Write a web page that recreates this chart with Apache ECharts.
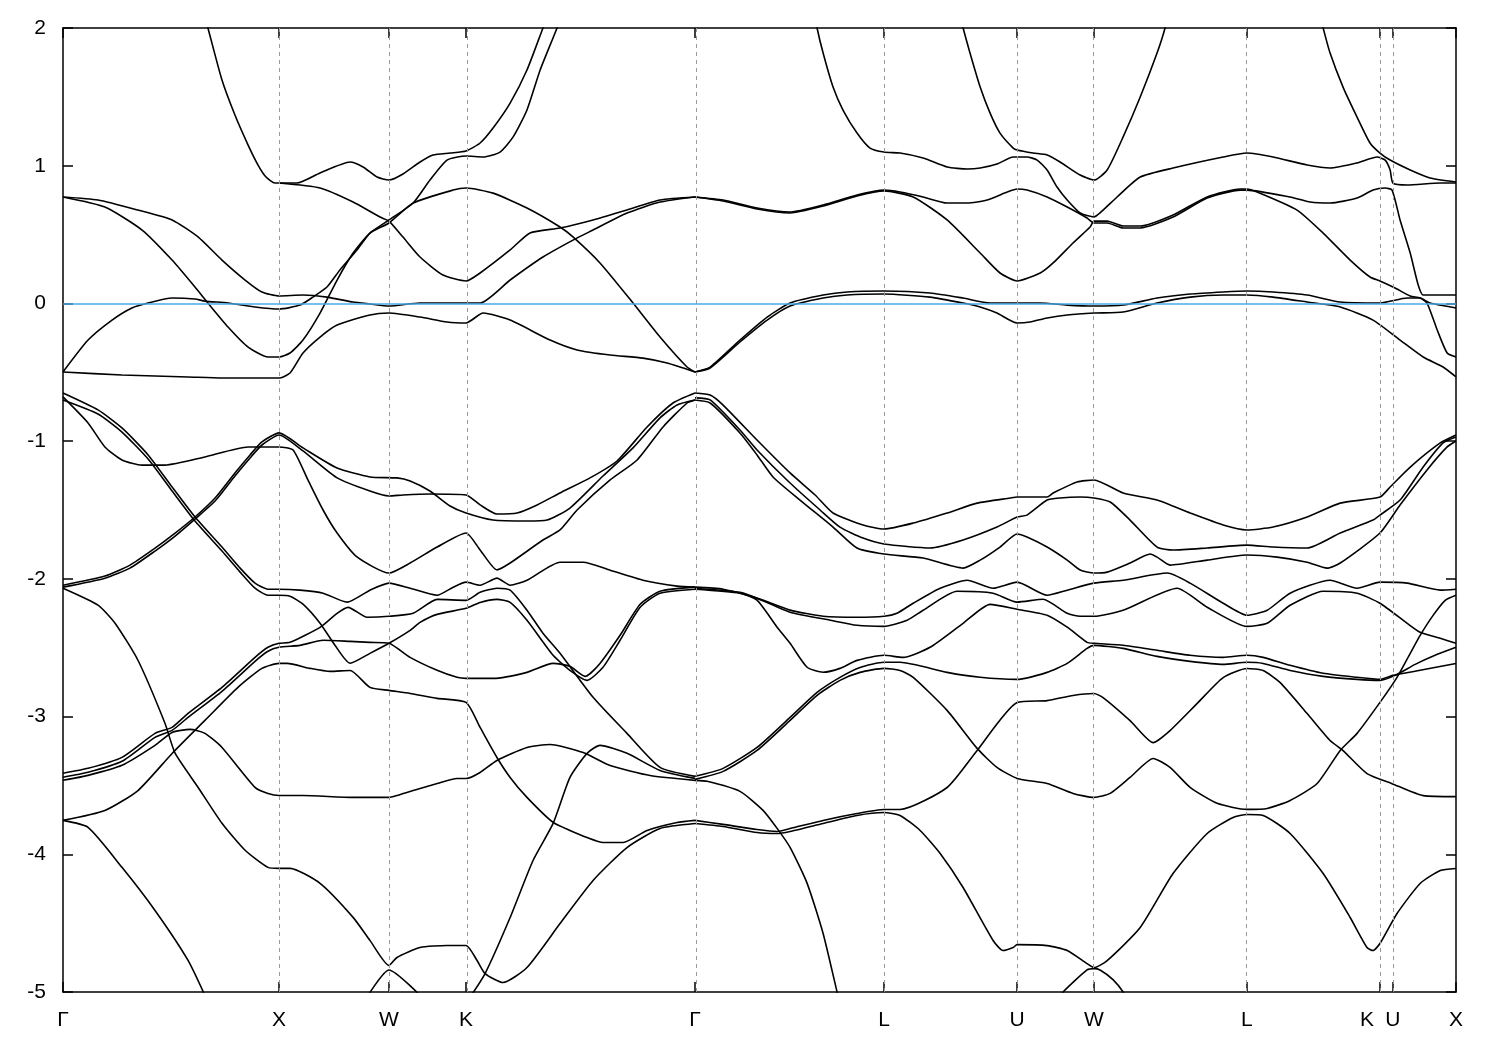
<!DOCTYPE html>
<html><head><meta charset="utf-8">
<script src="https://cdn.jsdelivr.net/npm/echarts@6/dist/echarts.min.js"></script>
<style>html,body{margin:0;padding:0;background:#fff}#c{width:1500px;height:1050px}</style>
</head><body><div id="c"></div>
<script>
// high-symmetry points along the k-path
const kTicks  = [0, 1.0, 1.509, 1.866, 2.926, 3.801, 4.417, 4.773, 5.481, 6.097, 6.157, 6.449];
const kLabels = ['Γ','X','W','K','Γ','L','U','W','L','K','U','X'];
const energyTicks = [-5,-4,-3,-2,-1,0,1,2];

// bands [k, E(eV)]
const T1 = [[0.657,2.08],[0.671,2.0],[0.736,1.622],[0.796,1.368],[0.857,1.15],[0.903,1.005],[0.94,0.918],[0.981,0.874],[1.0,0.874],[1.083,0.874],[1.19,0.947],[1.329,1.027],[1.389,0.991],[1.454,0.918],[1.509,0.896],[1.574,0.94],[1.653,1.027],[1.713,1.078],[1.792,1.092],[1.866,1.107],[1.931,1.165],[1.991,1.274],[2.07,1.455],[2.148,1.695],[2.222,2.0],[2.245,2.09]];
const T2 = [[1.0,0.874],[1.19,0.838],[1.343,0.736],[1.468,0.627],[1.509,0.598],[1.574,0.482],[1.653,0.337],[1.759,0.206],[1.866,0.163],[1.931,0.221],[2.07,0.388],[2.162,0.512],[2.301,0.548],[2.454,0.606],[2.611,0.679],[2.764,0.751],[2.926,0.773]];
const T3 = [[0,0.773],[0.162,0.751],[0.347,0.678],[0.505,0.606],[0.625,0.483],[0.736,0.315],[0.843,0.17],[0.921,0.083],[1.0,0.054],[1.111,0.061],[1.222,0.046],[1.343,0.01],[1.421,-0.004],[1.509,-0.019],[1.653,0.003],[1.778,0.003],[1.866,0.003],[1.931,0.003],[2.07,0.17],[2.222,0.337],[2.361,0.46],[2.454,0.533],[2.611,0.656],[2.764,0.736],[2.926,0.773]];
const T4 = [[0,0.773],[0.194,0.7],[0.366,0.533],[0.505,0.315],[0.611,0.119],[0.671,0.003],[0.764,-0.171],[0.857,-0.317],[0.949,-0.389],[1.0,-0.389],[1.051,-0.36],[1.111,-0.266],[1.19,-0.07],[1.269,0.17],[1.343,0.366],[1.421,0.511],[1.509,0.584],[1.621,0.729],[1.806,0.823],[1.866,0.838],[1.991,0.801],[2.148,0.693],[2.301,0.555],[2.361,0.483],[2.486,0.294],[2.639,0.003],[2.764,-0.244],[2.889,-0.462],[2.926,-0.498]];
const T5 = [[0,-0.498],[0.116,-0.266],[0.227,-0.121],[0.319,-0.033],[0.394,0.003],[0.505,0.039],[0.611,0.032],[0.657,0.017],[0.764,0.003],[0.889,-0.026],[1.0,-0.041],[1.097,-0.012],[1.157,0.046],[1.222,0.119],[1.282,0.243],[1.361,0.388],[1.421,0.511],[1.509,0.606],[1.621,0.729],[1.699,0.896],[1.778,1.041],[1.866,1.07],[1.945,1.063],[2.023,1.099],[2.084,1.209],[2.148,1.405],[2.209,1.695],[2.287,2.0],[2.306,2.1]];
const T6 = [[0,-0.498],[0.273,-0.52],[0.579,-0.534],[0.736,-0.542],[1.0,-0.542],[1.051,-0.505],[1.111,-0.36],[1.19,-0.244],[1.269,-0.157],[1.421,-0.084],[1.509,-0.07],[1.653,-0.099],[1.778,-0.135],[1.866,-0.142],[1.945,-0.07],[2.07,-0.121],[2.255,-0.266],[2.38,-0.338],[2.533,-0.375],[2.685,-0.397],[2.797,-0.433],[2.926,-0.498]];

const V1 = [[0,-0.679],[0.116,-0.868],[0.194,-1.042],[0.273,-1.137],[0.366,-1.174],[0.472,-1.174],[0.657,-1.115],[0.857,-1.042],[1.0,-1.042],[1.065,-1.064],[1.134,-1.282],[1.204,-1.5],[1.269,-1.667],[1.361,-1.841],[1.509,-1.958],[1.607,-1.885],[1.732,-1.769],[1.866,-1.667],[1.931,-1.79],[2.009,-1.935],[2.07,-1.885],[2.222,-1.718],[2.301,-1.645],[2.38,-1.5],[2.533,-1.282],[2.658,-1.137],[2.778,-0.897],[2.889,-0.723],[2.926,-0.701]];
const V2a = [[0,-0.65],[0.162,-0.773],[0.273,-0.904],[0.394,-1.1],[0.505,-1.333],[0.611,-1.551],[0.736,-1.769],[0.82,-1.922],[0.889,-2.031],[0.949,-2.075],[1.0,-2.075],[1.097,-2.082],[1.204,-2.104],[1.315,-2.169],[1.421,-2.082],[1.509,-2.031],[1.607,-2.068],[1.732,-2.119],[1.806,-2.061],[1.866,-2.024],[1.931,-2.046],[2.009,-1.995],[2.07,-2.046],[2.148,-2.01],[2.301,-1.879],[2.408,-1.879],[2.533,-1.937],[2.685,-2.01],[2.843,-2.053],[2.926,-2.06]];
const V2b = [[0,-0.701],[0.162,-0.803],[0.273,-0.934],[0.394,-1.13],[0.505,-1.362],[0.611,-1.58],[0.736,-1.798],[0.82,-1.951],[0.889,-2.068],[0.949,-2.119],[1.0,-2.119],[1.051,-2.126],[1.111,-2.184],[1.19,-2.322],[1.259,-2.482],[1.329,-2.613],[1.421,-2.541],[1.509,-2.468],[1.607,-2.374],[1.653,-2.316],[1.732,-2.258],[1.866,-2.214],[1.931,-2.171],[2.009,-2.149],[2.07,-2.171],[2.148,-2.301],[2.269,-2.555],[2.347,-2.664],[2.426,-2.737],[2.5,-2.642],[2.579,-2.446],[2.672,-2.206],[2.764,-2.104],[2.926,-2.075]];
const V3a = [[0,-2.046],[0.194,-1.98],[0.31,-1.9],[0.426,-1.777],[0.519,-1.668],[0.611,-1.551],[0.704,-1.413],[0.796,-1.231],[0.866,-1.1],[0.921,-1.006],[1.0,-0.94],[1.111,-1.049],[1.269,-1.195],[1.421,-1.26],[1.546,-1.267],[1.607,-1.289],[1.699,-1.362],[1.792,-1.471],[1.866,-1.522],[1.991,-1.573],[2.148,-1.58],[2.241,-1.573],[2.347,-1.486],[2.5,-1.253],[2.639,-1.049],[2.764,-0.831],[2.843,-0.737],[2.926,-0.701]];
const V3b = [[0,-2.06],[0.194,-1.995],[0.31,-1.922],[0.426,-1.798],[0.519,-1.689],[0.611,-1.566],[0.704,-1.435],[0.796,-1.253],[0.866,-1.122],[0.921,-1.028],[1.0,-0.955],[1.111,-1.071],[1.269,-1.267],[1.421,-1.362],[1.509,-1.398],[1.574,-1.391],[1.699,-1.384],[1.866,-1.391],[1.931,-1.463],[2.009,-1.529],[2.102,-1.522],[2.195,-1.463],[2.301,-1.376],[2.44,-1.267],[2.565,-1.144],[2.704,-0.897],[2.824,-0.723],[2.926,-0.65]];
const V4 = [[0,-2.068],[0.162,-2.191],[0.241,-2.322],[0.347,-2.591],[0.472,-3.048],[0.519,-3.266],[0.625,-3.513],[0.736,-3.775],[0.843,-3.971],[0.949,-4.095],[1.0,-4.102],[1.051,-4.102],[1.19,-4.211],[1.343,-4.458],[1.421,-4.625],[1.509,-4.807],[1.546,-4.749],[1.653,-4.677],[1.778,-4.662],[1.866,-4.662],[1.917,-4.771],[1.954,-4.866],[2.037,-4.931],[2.148,-4.822],[2.301,-4.503],[2.454,-4.19],[2.611,-3.951],[2.764,-3.813],[2.926,-3.777]];
const V5 = [[1.398,-5.06],[1.509,-4.84],[1.676,-5.06]];
const V5b = [[0,-3.754],[0.116,-3.805],[0.273,-4.095],[0.426,-4.408],[0.579,-4.771],[0.667,-5.06]];
const V6 = [[1.875,-5.06],[1.954,-4.866],[2.07,-4.459],[2.176,-4.045],[2.269,-3.776],[2.347,-3.442],[2.426,-3.267],[2.486,-3.209],[2.611,-3.267],[2.764,-3.391],[2.926,-3.449]];
const V7 = [[4.607,-5.06],[4.63,-5.0],[4.741,-4.84],[4.773,-4.83],[4.801,-4.84],[4.861,-4.91],[4.908,-5.0],[4.926,-5.06]];

const TL1 = [[0,-3.412],[0.116,-3.376],[0.273,-3.296],[0.426,-3.122],[0.505,-3.078],[0.579,-2.977],[0.736,-2.788],[0.889,-2.57],[0.949,-2.497],[1.0,-2.468],[1.051,-2.461],[1.19,-2.352],[1.269,-2.25],[1.32,-2.207],[1.408,-2.279],[1.509,-2.272],[1.621,-2.25],[1.732,-2.149],[1.866,-2.156],[1.931,-2.098],[2.009,-2.068],[2.07,-2.082],[2.148,-2.228],[2.222,-2.395],[2.301,-2.541],[2.454,-2.86],[2.611,-3.122],[2.764,-3.369],[2.926,-3.434]];
const TL2 = [[0,-3.441],[0.116,-3.405],[0.273,-3.325],[0.426,-3.151],[0.505,-3.1],[0.579,-3.006],[0.736,-2.817],[0.889,-2.599],[0.949,-2.526],[1.0,-2.497],[1.097,-2.483],[1.204,-2.446],[1.329,-2.454],[1.421,-2.461],[1.509,-2.468],[1.607,-2.57],[1.732,-2.664],[1.824,-2.715],[1.866,-2.723],[1.991,-2.723],[2.148,-2.679],[2.269,-2.614],[2.347,-2.635],[2.417,-2.708],[2.486,-2.614],[2.579,-2.41],[2.672,-2.185],[2.764,-2.09],[2.926,-2.06]];
const TL3 = [[0,-3.463],[0.116,-3.427],[0.273,-3.354],[0.426,-3.209],[0.505,-3.115],[0.588,-3.093],[0.657,-3.122],[0.736,-3.224],[0.889,-3.514],[0.949,-3.558],[1.0,-3.573],[1.111,-3.573],[1.343,-3.587],[1.509,-3.587],[1.546,-3.573],[1.621,-3.537],[1.732,-3.486],[1.824,-3.45],[1.866,-3.45],[1.931,-3.406],[2.009,-3.319],[2.148,-3.225],[2.255,-3.203],[2.408,-3.261],[2.533,-3.355],[2.718,-3.428],[2.926,-3.463]];
const TL4 = [[0,-3.754],[0.194,-3.682],[0.347,-3.537],[0.505,-3.268],[0.657,-3.028],[0.81,-2.788],[0.921,-2.65],[1.0,-2.614],[1.037,-2.614],[1.144,-2.65],[1.236,-2.672],[1.329,-2.665],[1.421,-2.788],[1.509,-2.81],[1.607,-2.832],[1.732,-2.868],[1.866,-2.897],[1.931,-3.079],[2.009,-3.297],[2.07,-3.442],[2.148,-3.587],[2.269,-3.769],[2.347,-3.827],[2.426,-3.878],[2.5,-3.914],[2.593,-3.914],[2.704,-3.827],[2.843,-3.769],[2.926,-3.754]];

const R1 = [[3.482,2.094],[3.491,2.0],[3.519,1.818],[3.565,1.571],[3.611,1.404],[3.676,1.237],[3.736,1.128],[3.801,1.099],[3.875,1.092],[3.982,1.056],[4.093,0.991],[4.186,0.976],[4.246,0.983],[4.324,1.012],[4.399,1.063],[4.463,1.063],[4.51,1.041],[4.556,0.969],[4.602,0.845],[4.649,0.751],[4.709,0.657],[4.773,0.628],[4.801,0.657],[4.88,0.773],[4.987,0.918],[5.139,0.983],[5.371,1.063],[5.481,1.092],[5.602,1.063],[5.76,1.005],[5.866,0.983],[5.991,1.02],[6.084,1.063],[6.121,1.041],[6.144,0.969],[6.157,0.874],[6.223,0.86],[6.376,0.874],[6.449,0.874]];
const R2 = [[4.153,2.094],[4.167,2.0],[4.199,1.818],[4.246,1.571],[4.292,1.382],[4.338,1.237],[4.399,1.128],[4.417,1.114],[4.491,1.092],[4.556,1.078],[4.616,1.027],[4.709,0.932],[4.773,0.896],[4.834,0.969],[4.908,1.209],[4.987,1.499],[5.065,1.818],[5.102,2.0],[5.112,2.094]];
const R3 = [[5.82,2.094],[5.834,2.0],[5.866,1.818],[5.926,1.571],[5.991,1.353],[6.051,1.165],[6.097,1.092],[6.144,1.041],[6.237,0.969],[6.329,0.911],[6.449,0.882]];
const R4 = [[2.926,0.773],[3.056,0.751],[3.213,0.693],[3.366,0.664],[3.519,0.715],[3.676,0.787],[3.801,0.823],[3.875,0.809],[3.982,0.773],[4.093,0.729],[4.186,0.729],[4.278,0.751],[4.371,0.809],[4.417,0.831],[4.463,0.823],[4.556,0.773],[4.649,0.7],[4.741,0.62],[4.773,0.584],[4.834,0.584],[4.908,0.548],[4.987,0.548],[5.139,0.627],[5.297,0.765],[5.45,0.823],[5.481,0.823],[5.681,0.773],[5.774,0.736],[5.866,0.729],[5.991,0.765],[6.065,0.823],[6.121,0.838],[6.153,0.823],[6.19,0.606],[6.237,0.366],[6.274,0.134],[6.297,0.061],[6.376,0.061],[6.449,0.061]];
const R5 = [[2.926,0.773],[3.056,0.744],[3.213,0.686],[3.366,0.657],[3.519,0.707],[3.676,0.78],[3.801,0.816],[3.936,0.773],[4.093,0.606],[4.246,0.366],[4.338,0.221],[4.417,0.163],[4.524,0.221],[4.584,0.294],[4.676,0.439],[4.755,0.555],[4.773,0.598],[4.834,0.598],[4.908,0.562],[4.987,0.562],[5.139,0.642],[5.297,0.773],[5.45,0.831],[5.481,0.831],[5.528,0.809],[5.713,0.678],[5.834,0.511],[5.959,0.315],[6.051,0.192],[6.097,0.163],[6.167,0.112],[6.237,0.054],[6.283,0.039],[6.315,0.003],[6.362,-0.193],[6.408,-0.36],[6.449,-0.389]];
const R6 = [[2.926,-0.498],[2.996,-0.462],[3.134,-0.266],[3.26,-0.099],[3.366,0.003],[3.519,0.061],[3.63,0.083],[3.801,0.09],[4.014,0.076],[4.167,0.039],[4.292,0.003],[4.417,0.003],[4.524,0.003],[4.649,-0.012],[4.773,-0.019],[4.908,-0.012],[5.065,0.039],[5.218,0.068],[5.371,0.083],[5.481,0.09],[5.602,0.083],[5.76,0.061],[5.913,0.01],[6.097,0.003],[6.223,0.039],[6.283,0.039],[6.329,0.003],[6.449,-0.033]];
const R7 = [[2.926,-0.498],[2.996,-0.469],[3.134,-0.28],[3.26,-0.121],[3.366,-0.019],[3.519,0.039],[3.63,0.061],[3.801,0.068],[4.014,0.046],[4.167,0.003],[4.246,-0.026],[4.324,-0.07],[4.417,-0.142],[4.477,-0.135],[4.556,-0.106],[4.649,-0.084],[4.773,-0.07],[4.908,-0.062],[5.065,0.003],[5.218,0.046],[5.371,0.061],[5.481,0.061],[5.602,0.046],[5.76,0.01],[5.913,-0.026],[6.065,-0.121],[6.19,-0.266],[6.297,-0.389],[6.389,-0.462],[6.449,-0.534]];

const G1 = [[2.926,-0.65],[2.996,-0.665],[3.056,-0.738],[3.213,-0.992],[3.366,-1.231],[3.482,-1.391],[3.565,-1.522],[3.704,-1.609],[3.801,-1.638],[3.936,-1.595],[4.093,-1.522],[4.232,-1.45],[4.385,-1.413],[4.417,-1.406],[4.556,-1.406],[4.584,-1.377],[4.695,-1.297],[4.773,-1.282],[4.908,-1.377],[5.065,-1.428],[5.218,-1.522],[5.371,-1.609],[5.481,-1.645],[5.602,-1.624],[5.76,-1.551],[5.913,-1.45],[6.097,-1.406],[6.144,-1.333],[6.237,-1.188],[6.376,-1.013],[6.449,-0.955]];
const G2 = [[2.926,-0.686],[2.996,-0.701],[3.134,-0.919],[3.213,-1.064],[3.366,-1.304],[3.505,-1.5],[3.597,-1.624],[3.704,-1.704],[3.801,-1.747],[4.014,-1.776],[4.167,-1.718],[4.324,-1.624],[4.417,-1.551],[4.463,-1.537],[4.556,-1.428],[4.616,-1.413],[4.709,-1.406],[4.773,-1.413],[4.848,-1.442],[4.94,-1.573],[5.065,-1.769],[5.139,-1.791],[5.297,-1.776],[5.481,-1.755],[5.602,-1.769],[5.76,-1.776],[5.913,-1.667],[6.065,-1.573],[6.097,-1.537],[6.19,-1.428],[6.297,-1.188],[6.389,-1.013],[6.449,-0.97]];
const G3 = [[2.926,-0.701],[2.996,-0.723],[3.134,-0.941],[3.213,-1.1],[3.287,-1.26],[3.412,-1.428],[3.565,-1.624],[3.676,-1.776],[3.801,-1.82],[3.982,-1.849],[4.167,-1.922],[4.246,-1.864],[4.338,-1.769],[4.417,-1.674],[4.463,-1.696],[4.556,-1.769],[4.649,-1.864],[4.709,-1.936],[4.773,-1.958],[4.834,-1.951],[4.94,-1.885],[5.033,-1.82],[5.065,-1.842],[5.125,-1.9],[5.297,-1.864],[5.481,-1.827],[5.621,-1.842],[5.76,-1.879],[5.852,-1.922],[5.913,-1.885],[6.097,-1.667],[6.19,-1.464],[6.315,-1.209],[6.408,-1.042],[6.449,-0.999]];
const G4 = [[2.926,-2.06],[3.056,-2.075],[3.213,-2.14],[3.366,-2.227],[3.519,-2.271],[3.676,-2.279],[3.801,-2.272],[3.861,-2.25],[3.936,-2.177],[4.061,-2.068],[4.186,-2.01],[4.306,-2.068],[4.417,-2.024],[4.556,-2.119],[4.649,-2.082],[4.773,-2.031],[4.908,-2.01],[5.112,-1.958],[5.218,-2.031],[5.371,-2.177],[5.481,-2.264],[5.575,-2.228],[5.681,-2.104],[5.866,-2.01],[5.991,-2.068],[6.097,-2.024],[6.223,-2.031],[6.376,-2.082],[6.449,-2.075]];
const G5 = [[2.926,-2.068],[3.134,-2.097],[3.213,-2.14],[3.366,-2.242],[3.551,-2.3],[3.676,-2.337],[3.801,-2.345],[3.908,-2.3],[3.982,-2.228],[4.139,-2.09],[4.306,-2.104],[4.417,-2.169],[4.537,-2.148],[4.649,-2.25],[4.709,-2.272],[4.773,-2.272],[4.908,-2.228],[5.158,-2.068],[5.297,-2.206],[5.481,-2.345],[5.575,-2.323],[5.681,-2.192],[5.834,-2.09],[5.991,-2.104],[6.097,-2.177],[6.223,-2.323],[6.283,-2.388],[6.376,-2.432],[6.449,-2.468]];
const G6 = [[2.926,-2.075],[3.134,-2.104],[3.213,-2.155],[3.306,-2.351],[3.366,-2.468],[3.445,-2.642],[3.519,-2.678],[3.597,-2.65],[3.676,-2.592],[3.801,-2.555],[3.889,-2.57],[4.014,-2.497],[4.167,-2.323],[4.292,-2.185],[4.417,-2.221],[4.556,-2.264],[4.649,-2.351],[4.741,-2.461],[4.773,-2.468],[4.908,-2.482],[5.065,-2.519],[5.218,-2.555],[5.371,-2.57],[5.481,-2.555],[5.556,-2.57],[5.681,-2.628],[5.834,-2.686],[5.991,-2.715],[6.097,-2.73],[6.157,-2.701],[6.283,-2.664],[6.449,-2.614]];
const G7 = [[2.926,-3.434],[3.056,-3.376],[3.213,-3.224],[3.366,-3.006],[3.491,-2.824],[3.597,-2.715],[3.69,-2.643],[3.801,-2.606],[3.875,-2.606],[4.093,-2.679],[4.246,-2.715],[4.417,-2.73],[4.556,-2.679],[4.649,-2.614],[4.741,-2.505],[4.773,-2.483],[4.908,-2.505],[5.065,-2.563],[5.218,-2.599],[5.371,-2.621],[5.481,-2.606],[5.556,-2.614],[5.681,-2.665],[5.834,-2.708],[5.991,-2.73],[6.097,-2.737],[6.167,-2.701],[6.26,-2.621],[6.352,-2.555],[6.449,-2.497]];
const G8 = [[2.926,-3.456],[3.056,-3.398],[3.213,-3.246],[3.366,-3.028],[3.491,-2.846],[3.597,-2.737],[3.69,-2.679],[3.801,-2.65],[3.875,-2.665],[3.936,-2.715],[4.093,-2.955],[4.232,-3.231],[4.324,-3.369],[4.417,-3.449],[4.556,-3.486],[4.676,-3.558],[4.773,-3.587],[4.848,-3.558],[4.94,-3.442],[5.047,-3.304],[5.125,-3.369],[5.218,-3.514],[5.343,-3.63],[5.481,-3.674],[5.575,-3.667],[5.681,-3.609],[5.806,-3.486],[5.913,-3.246],[5.991,-3.122],[6.097,-2.897],[6.176,-2.715],[6.237,-2.541],[6.283,-2.41],[6.343,-2.265],[6.399,-2.156],[6.449,-2.119]];
const G9 = [[2.926,-3.463],[2.982,-3.47],[3.134,-3.543],[3.241,-3.681],[3.306,-3.812],[3.366,-3.95],[3.445,-4.211],[3.519,-4.575],[3.584,-5.003],[3.593,-5.06]];
const G10 = [[2.926,-3.754],[3.056,-3.783],[3.213,-3.82],[3.306,-3.834],[3.366,-3.813],[3.519,-3.754],[3.676,-3.704],[3.801,-3.675],[3.875,-3.675],[4.093,-3.515],[4.232,-3.246],[4.417,-2.898],[4.556,-2.884],[4.676,-2.847],[4.773,-2.833],[4.815,-2.862],[4.94,-3.029],[5.047,-3.189],[5.125,-3.102],[5.25,-2.906],[5.371,-2.717],[5.481,-2.651],[5.556,-2.666],[5.635,-2.753],[5.76,-2.978],[5.866,-3.174],[5.926,-3.247],[6.037,-3.414],[6.153,-3.487],[6.297,-3.574],[6.449,-3.581]];
const G11 = [[2.926,-3.776],[3.056,-3.798],[3.213,-3.842],[3.306,-3.849],[3.366,-3.834],[3.519,-3.776],[3.676,-3.718],[3.801,-3.697],[3.875,-3.718],[3.968,-3.827],[4.061,-3.994],[4.167,-4.241],[4.306,-4.626],[4.352,-4.699],[4.399,-4.677],[4.417,-4.656],[4.556,-4.663],[4.649,-4.699],[4.741,-4.794],[4.773,-4.823],[4.834,-4.772],[4.987,-4.532],[5.139,-4.14],[5.297,-3.849],[5.417,-3.733],[5.481,-3.711],[5.556,-3.718],[5.681,-3.849],[5.834,-4.14],[5.959,-4.459],[6.037,-4.677],[6.065,-4.699],[6.097,-4.648],[6.176,-4.43],[6.283,-4.212],[6.376,-4.118],[6.449,-4.103]];

const bands = [T1,T2,T3,T4,T5,T6,V1,V2a,V2b,V3a,V3b,V4,V5,V5b,V6,V7,TL1,TL2,TL3,TL4,R1,R2,R3,R4,R5,R6,R7,G1,G2,G3,G4,G5,G6,G7,G8,G9,G10,G11];

const FONT = 'Liberation Sans, Arial, Helvetica, sans-serif';
const kMax = kTicks[kTicks.length-1];
function kLabel(v){
  for (let i=0;i<kTicks.length;i++){
    if (Math.abs(v-kTicks[i])<1e-6) return i===9 ? '{kl|'+kLabels[i]+'}' : '{n|'+kLabels[i]+'}';
  }
  return '';
}

const series = bands.map(function(b){
  return {type:'line', data:b, showSymbol:false, symbol:'none', smooth:0.2,
    lineStyle:{color:'#000', width:1.6}, silent:true, animation:false, z:3};
});
// vertical dashed guides at interior high-symmetry points
series.push({type:'line', data:[], silent:true, animation:false, z:1,
  markLine:{silent:true, symbol:['none','none'], label:{show:false}, animation:false,
    lineStyle:{color:'#9a9a9a', type:[4,4], width:1},
    data: kTicks.slice(1,-1).map(function(v){return {xAxis:v};})}});
// Fermi level
series.push({type:'line', data:[], silent:true, animation:false, z:4,
  markLine:{silent:true, symbol:['none','none'], label:{show:false}, animation:false,
    lineStyle:{color:'#45aee0', type:'solid', width:1.6},
    data:[{yAxis:0}]}});

const axisLineStyle = {color:'#000', width:1.5};
const labStyle = {color:'#000', fontSize:21, fontFamily:FONT};
const option = {
  backgroundColor:'#fff',
  animation:false,
  grid:{left:63, right:44, top:28, bottom:58, containLabel:false},
  xAxis:[
    {type:'value', min:0, max:kMax, position:'bottom',
     axisLine:{show:true, onZero:false, lineStyle:axisLineStyle},
     axisTick:{show:true, inside:true, length:10, customValues:kTicks, lineStyle:axisLineStyle},
     axisLabel:{show:true, customValues:kTicks, formatter:kLabel, color:'#000', fontSize:21, fontFamily:FONT, margin:18,
       rich:{n:labStyle, kl:Object.assign({padding:[0,26,0,0]}, labStyle)}},
     splitLine:{show:false}},
    {type:'value', min:0, max:kMax, position:'top',
     axisLine:{show:true, onZero:false, lineStyle:axisLineStyle},
     axisTick:{show:true, inside:true, length:10, customValues:kTicks, lineStyle:axisLineStyle},
     axisLabel:{show:false}, splitLine:{show:false}}
  ],
  yAxis:[
    {type:'value', min:-5, max:2, interval:1, position:'left',
     axisLine:{show:true, onZero:false, lineStyle:axisLineStyle},
     axisTick:{show:true, inside:true, length:10, lineStyle:axisLineStyle},
     axisLabel:{show:true, color:'#000', fontSize:21, fontFamily:FONT, margin:17,
       formatter:function(v){return energyTicks.indexOf(v)>=0 ? String(v) : '';}},
     splitLine:{show:false}},
    {type:'value', min:-5, max:2, interval:1, position:'right',
     axisLine:{show:true, onZero:false, lineStyle:axisLineStyle},
     axisTick:{show:true, inside:true, length:10, lineStyle:axisLineStyle},
     axisLabel:{show:false}, splitLine:{show:false}}
  ],
  series: series
};
const chart = echarts.init(document.getElementById('c'), null, {renderer:'canvas'});
chart.setOption(option);
</script></body></html>
